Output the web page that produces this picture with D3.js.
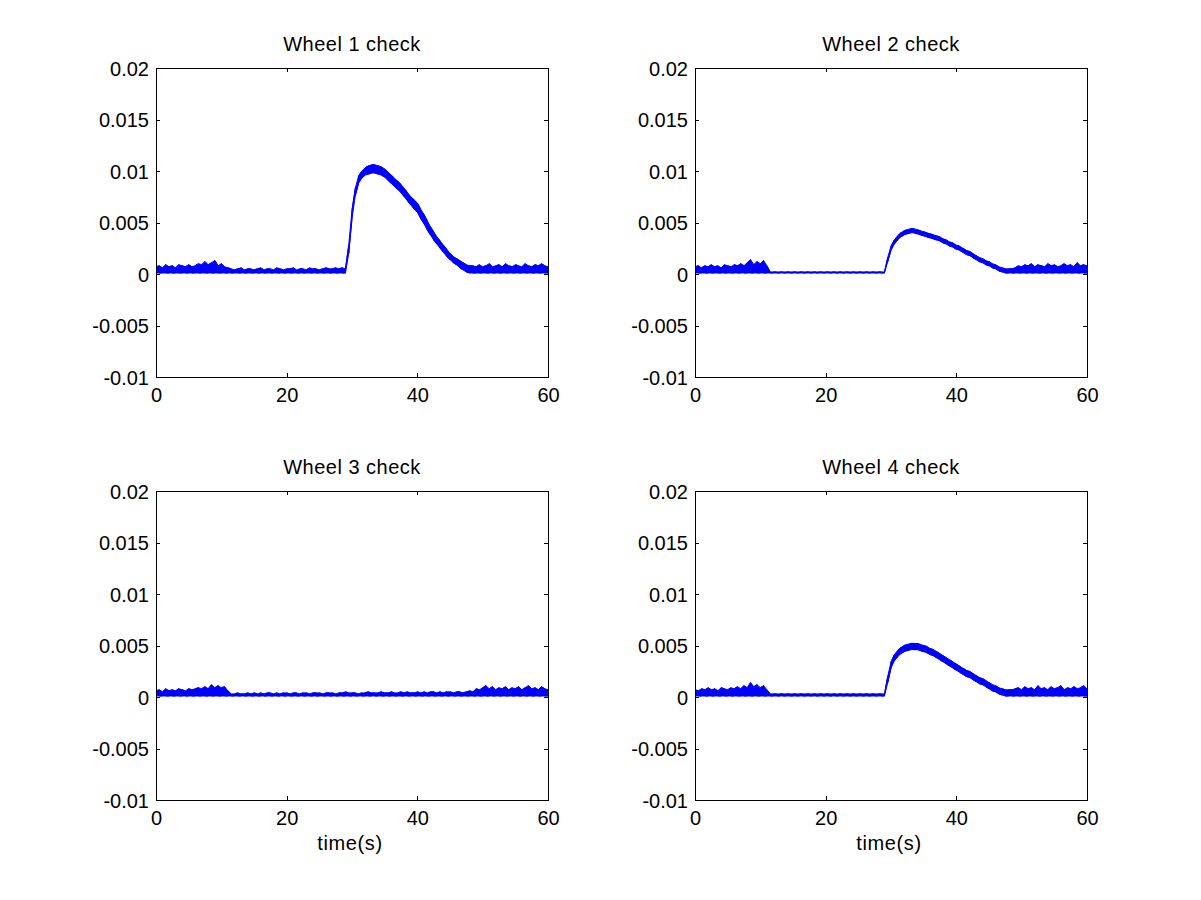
<!DOCTYPE html>
<html>
<head>
<meta charset="utf-8">
<script src="https://cdn.jsdelivr.net/npm/d3@7/dist/d3.min.js"></script>
<style>
  html, body { margin: 0; padding: 0; background: #ffffff; }
  svg { display: block; }
  text { font-family: "Liberation Sans", Arial, Helvetica, sans-serif; fill: #000; }
</style>
</head>
<body>
<svg id="chart" width="1201" height="900"></svg>
<script>
// ---------------- DATA ----------------
const titles = ["Wheel 1 check", "Wheel 2 check", "Wheel 3 check", "Wheel 4 check"];
const xLabel = "time(s)";
const xTicks = [0, 20, 40, 60];
const yTicks = [-0.01, -0.005, 0, 0.005, 0.01, 0.015, 0.02];
const yTickLabels = ["-0.01", "-0.005", "0", "0.005", "0.01", "0.015", "0.02"];
const xDomain = [0, 60];
const yDomain = [-0.01, 0.02];

// sample times (s)
const time = [
  0,0.5,1,1.5,2,2.5,3,3.5,4,4.5,
  5,5.5,6,6.5,7,7.5,8,8.5,9,9.5,
  10,10.5,11,11.5,12,12.5,13,13.5,14,14.5,
  15,15.5,16,16.5,17,17.5,18,18.5,19,19.5,
  20,20.5,21,21.5,22,22.5,23,23.5,24,24.5,
  25,25.5,26,26.5,27,27.5,28,28.5,29,29.5,
  30,30.5,31,31.5,32,32.5,33,33.5,34,34.5,
  35,35.5,36,36.5,37,37.5,38,38.5,39,39.5,
  40,40.5,41,41.5,42,42.5,43,43.5,44,44.5,
  45,45.5,46,46.5,47,47.5,48,48.5,49,49.5,
  50,50.5,51,51.5,52,52.5,53,53.5,54,54.5,
  55,55.5,56,56.5,57,57.5,58,58.5,59,59.5,
  60
];

// Wheel 1: lower / upper envelope of the noisy signal
const wheel1Hi = [
  .0007,.0008,.0006,.0009,.0007,.0008,.0006,.0009,.0008,.0007,
  .0009,.0007,.0008,.0010,.0009,.0012,.0009,.0011,.0013,.0008,
  .0010,.0007,.0006,.0005,.0004,.0005,.0006,.0004,.0005,.0005,
  .0004,.0005,.0006,.0004,.0005,.0005,.0004,.0006,.0005,.0004,
  .0005,.0005,.0006,.0004,.0005,.0005,.0004,.0006,.0005,.0005,
  .0004,.0005,.0006,.0005,.0005,.0006,.0005,.0006,.0005,.0028,
  .0062,.0083,.0095,.0100,.0103,.0105,.0106,.0106,.0105,.0104,
  .0102,.0099,.0096,.0093,.0090,.0087,.0083,.0079,.0075,.0072,
  .0069,.0063,.0058,.0052,.0046,.0041,.0036,.0032,.0028,.0024,
  .0020,.0017,.0015,.0013,.0011,.0009,.0008,.0008,.0007,.0009,
  .0007,.0008,.0010,.0007,.0008,.0009,.0007,.0010,.0008,.0007,
  .0009,.0008,.0007,.0010,.0008,.0007,.0009,.0008,.0010,.0008,
  .0007
];
const wheel1Lo = [
  .0001,.0001,.0001,.0001,.0001,.0001,.0001,.0001,.0001,.0001,
  .0001,.0001,.0001,.0001,.0001,.0001,.0001,.0001,.0001,.0001,
  .0001,.0001,.0001,.0001,.0001,.0001,.0001,.0001,.0001,.0001,
  .0001,.0001,.0001,.0001,.0001,.0001,.0001,.0001,.0001,.0001,
  .0001,.0001,.0001,.0001,.0001,.0001,.0001,.0001,.0001,.0001,
  .0001,.0001,.0001,.0001,.0001,.0001,.0001,.0001,.0001,.0020,
  .0054,.0076,.0088,.0093,.0096,.0097,.0098,.0098,.0097,.0096,
  .0094,.0091,.0088,.0085,.0082,.0079,.0075,.0071,.0067,.0063,
  .0060,.0054,.0049,.0043,.0038,.0033,.0029,.0025,.0021,.0017,
  .0014,.0011,.0009,.0006,.0004,.0002,.0001,.0001,.0001,.0001,
  .0001,.0001,.0001,.0001,.0001,.0001,.0001,.0001,.0001,.0001,
  .0001,.0001,.0001,.0001,.0001,.0001,.0001,.0001,.0001,.0001,
  .0001
];

// Wheel 2
const wheel2Hi = [
  .0007,.0008,.0006,.0008,.0007,.0009,.0007,.0008,.0006,.0009,
  .0008,.0007,.0009,.0008,.0010,.0008,.0011,.0014,.0009,.0012,
  .0010,.0013,.0008,.0002,.0002,.0002,.0002,.0002,.0002,.0002,
  .0002,.0002,.0002,.0002,.0002,.0002,.0002,.0002,.0002,.0002,
  .0002,.0002,.0002,.0002,.0002,.0002,.0002,.0002,.0002,.0002,
  .0002,.0002,.0002,.0002,.0002,.0002,.0002,.0002,.0002,.0016,
  .0027,.0033,.0037,.0040,.0042,.0043,.0044,.0044,.0043,.0042,
  .0041,.0040,.0039,.0038,.0037,.0036,.0034,.0033,.0031,.0030,
  .0028,.0027,.0025,.0023,.0022,.0020,.0018,.0016,.0015,.0013,
  .0012,.0010,.0009,.0007,.0006,.0005,.0005,.0005,.0006,.0008,
  .0007,.0009,.0008,.0010,.0007,.0009,.0008,.0007,.0010,.0008,
  .0009,.0007,.0008,.0010,.0008,.0009,.0007,.0011,.0008,.0009,
  .0008
];
const wheel2Lo = [
  .0001,.0001,.0001,.0001,.0001,.0001,.0001,.0001,.0001,.0001,
  .0001,.0001,.0001,.0001,.0001,.0001,.0001,.0001,.0001,.0001,
  .0001,.0001,.0001,.0001,.0001,.0001,.0001,.0001,.0001,.0001,
  .0001,.0001,.0001,.0001,.0001,.0001,.0001,.0001,.0001,.0001,
  .0001,.0001,.0001,.0001,.0001,.0001,.0001,.0001,.0001,.0001,
  .0001,.0001,.0001,.0001,.0001,.0001,.0001,.0001,.0001,.0012,
  .0023,.0029,.0033,.0036,.0038,.0039,.0040,.0040,.0039,.0038,
  .0037,.0036,.0035,.0034,.0033,.0032,.0030,.0029,.0027,.0026,
  .0024,.0023,.0021,.0019,.0018,.0016,.0014,.0012,.0011,.0009,
  .0008,.0006,.0005,.0003,.0002,.0001,.0001,.0001,.0001,.0001,
  .0001,.0001,.0001,.0001,.0001,.0001,.0001,.0001,.0001,.0001,
  .0001,.0001,.0001,.0001,.0001,.0001,.0001,.0001,.0001,.0001,
  .0001
];

// Wheel 3
const wheel3Hi = [
  .0006,.0007,.0005,.0008,.0006,.0007,.0006,.0008,.0007,.0006,
  .0008,.0007,.0008,.0009,.0008,.0010,.0008,.0012,.0009,.0011,
  .0009,.0010,.0006,.0003,.0003,.0004,.0003,.0003,.0004,.0003,
  .0004,.0003,.0004,.0003,.0004,.0004,.0003,.0004,.0003,.0004,
  .0004,.0003,.0004,.0004,.0003,.0004,.0004,.0003,.0004,.0004,
  .0004,.0003,.0004,.0004,.0004,.0003,.0004,.0004,.0005,.0004,
  .0004,.0004,.0003,.0004,.0004,.0005,.0004,.0004,.0004,.0005,
  .0004,.0004,.0005,.0004,.0004,.0005,.0004,.0005,.0004,.0004,
  .0005,.0004,.0005,.0004,.0005,.0005,.0004,.0005,.0004,.0005,
  .0005,.0004,.0005,.0005,.0004,.0005,.0006,.0005,.0008,.0007,
  .0009,.0011,.0008,.0010,.0007,.0009,.0008,.0010,.0007,.0009,
  .0008,.0010,.0007,.0009,.0011,.0008,.0009,.0007,.0010,.0008,
  .0007
];
const wheel3Lo = [
  .0001,.0001,.0001,.0001,.0001,.0001,.0001,.0001,.0001,.0001,
  .0001,.0001,.0001,.0001,.0001,.0001,.0001,.0001,.0001,.0001,
  .0001,.0001,.0001,.0001,.0001,.0001,.0001,.0001,.0001,.0001,
  .0001,.0001,.0001,.0001,.0001,.0001,.0001,.0001,.0001,.0001,
  .0001,.0001,.0001,.0001,.0001,.0001,.0001,.0001,.0001,.0001,
  .0001,.0001,.0001,.0001,.0001,.0001,.0001,.0001,.0001,.0001,
  .0001,.0001,.0001,.0001,.0001,.0001,.0001,.0001,.0001,.0001,
  .0001,.0001,.0001,.0001,.0001,.0001,.0001,.0001,.0001,.0001,
  .0001,.0001,.0001,.0001,.0001,.0001,.0001,.0001,.0001,.0001,
  .0001,.0001,.0001,.0001,.0001,.0001,.0001,.0001,.0001,.0001,
  .0001,.0001,.0001,.0001,.0001,.0001,.0001,.0001,.0001,.0001,
  .0001,.0001,.0001,.0001,.0001,.0001,.0001,.0001,.0001,.0001,
  .0001
];

// Wheel 4
const wheel4Hi = [
  .0007,.0006,.0008,.0007,.0009,.0007,.0008,.0006,.0009,.0008,
  .0007,.0009,.0008,.0010,.0008,.0011,.0009,.0014,.0010,.0012,
  .0009,.0011,.0007,.0003,.0003,.0003,.0003,.0003,.0003,.0003,
  .0003,.0003,.0003,.0003,.0003,.0003,.0003,.0003,.0003,.0003,
  .0003,.0003,.0003,.0003,.0003,.0003,.0003,.0003,.0003,.0003,
  .0003,.0003,.0003,.0003,.0003,.0003,.0003,.0003,.0003,.0020,
  .0034,.0041,.0045,.0048,.0050,.0051,.0052,.0052,.0052,.0051,
  .0050,.0049,.0047,.0046,.0044,.0042,.0040,.0038,.0036,.0034,
  .0032,.0030,.0028,.0026,.0025,.0023,.0021,.0019,.0018,.0016,
  .0014,.0012,.0011,.0009,.0008,.0007,.0007,.0007,.0008,.0009,
  .0007,.0010,.0008,.0009,.0007,.0011,.0008,.0009,.0007,.0010,
  .0008,.0009,.0011,.0007,.0009,.0008,.0010,.0008,.0009,.0011,
  .0008
];
const wheel4Lo = [
  .0001,.0001,.0001,.0001,.0001,.0001,.0001,.0001,.0001,.0001,
  .0001,.0001,.0001,.0001,.0001,.0001,.0001,.0001,.0001,.0001,
  .0001,.0001,.0001,.0001,.0001,.0001,.0001,.0001,.0001,.0001,
  .0001,.0001,.0001,.0001,.0001,.0001,.0001,.0001,.0001,.0001,
  .0001,.0001,.0001,.0001,.0001,.0001,.0001,.0001,.0001,.0001,
  .0001,.0001,.0001,.0001,.0001,.0001,.0001,.0001,.0001,.0014,
  .0028,.0035,.0039,.0042,.0044,.0045,.0046,.0046,.0046,.0045,
  .0044,.0043,.0041,.0040,.0038,.0036,.0034,.0032,.0030,.0028,
  .0026,.0024,.0022,.0020,.0019,.0017,.0015,.0013,.0012,.0010,
  .0008,.0006,.0005,.0003,.0002,.0001,.0001,.0001,.0001,.0001,
  .0001,.0001,.0001,.0001,.0001,.0001,.0001,.0001,.0001,.0001,
  .0001,.0001,.0001,.0001,.0001,.0001,.0001,.0001,.0001,.0001,
  .0001
];

const wheelsHi = [wheel1Hi, wheel2Hi, wheel3Hi, wheel4Hi];
const wheelsLo = [wheel1Lo, wheel2Lo, wheel3Lo, wheel4Lo];

// ---------------- LAYOUT ----------------
const lineColor = "#0000ff";
const panelW = 392, panelH = 309;
const panelPos = [
  { left: 156, top: 68 },
  { left: 695, top: 68 },
  { left: 156, top: 491 },
  { left: 695, top: 491 }
];
const tickLen = 4;

const svg = d3.select("#chart");
svg.append("rect").attr("width", 1201).attr("height", 900).attr("fill", "#ffffff");

panelPos.forEach((p, k) => {
  const g = svg.append("g").attr("transform", `translate(${p.left},${p.top})`);
  const x = d3.scaleLinear().domain(xDomain).range([0, panelW]);
  const y = d3.scaleLinear().domain(yDomain).range([panelH, 0]);

  const clipId = "clip" + k;
  g.append("clipPath").attr("id", clipId)
    .append("rect").attr("x", 0).attr("y", 0).attr("width", panelW).attr("height", panelH);

  const hi = wheelsHi[k], lo = wheelsLo[k];
  const rows = time.map((t, i) => ({ t, lo: lo[i], hi: hi[i] }));

  const plot = g.append("g").attr("clip-path", `url(#${clipId})`);
  const area = d3.area().x(d => x(d.t)).y0(d => y(d.lo)).y1(d => y(d.hi));
  plot.append("path").datum(rows).attr("d", area)
    .attr("fill", lineColor).attr("stroke", lineColor).attr("stroke-width", 1);
  // jagged noise strokes: vertical segments between the envelope values
  const zig = [];
  rows.forEach((d, i) => {
    if (i % 2 === 0) { zig.push([d.t, d.lo]); zig.push([d.t, d.hi]); }
    else { zig.push([d.t, d.hi]); zig.push([d.t, d.lo]); }
  });
  plot.append("path").datum(zig)
    .attr("d", d3.line().x(d => x(d[0])).y(d => y(d[1])))
    .attr("fill", "none").attr("stroke", lineColor).attr("stroke-width", 1);

  // axes box
  g.append("rect").attr("x", 0.5).attr("y", 0.5).attr("width", panelW).attr("height", panelH)
    .attr("fill", "none").attr("stroke", "#000").attr("stroke-width", 1)
    .attr("shape-rendering", "crispEdges");

  const styleAxis = sel => {
    sel.select(".domain").remove();
    sel.selectAll(".tick line").attr("stroke", "#000").attr("shape-rendering", "crispEdges");
    sel.selectAll(".tick text").attr("font-size", 20).attr("fill", "#000");
  };

  g.append("g")
    .call(d3.axisLeft(y).tickValues(yTicks).tickFormat((d, i) => yTickLabels[i])
      .tickSizeInner(-tickLen).tickSizeOuter(0).tickPadding(7))
    .call(styleAxis)
    .call(a => a.selectAll(".tick text").attr("dy", "0.36em"));
  g.append("g").attr("transform", `translate(${panelW},0)`)
    .call(d3.axisRight(y).tickValues(yTicks).tickFormat("")
      .tickSizeInner(-tickLen).tickSizeOuter(0))
    .call(styleAxis);
  g.append("g").attr("transform", `translate(0,${panelH})`)
    .call(d3.axisBottom(x).tickValues(xTicks).tickFormat(d3.format("d"))
      .tickSizeInner(-tickLen).tickSizeOuter(0).tickPadding(11))
    .call(styleAxis);
  g.append("g")
    .call(d3.axisTop(x).tickValues(xTicks).tickFormat("")
      .tickSizeInner(-tickLen).tickSizeOuter(0))
    .call(styleAxis);

  // title
  g.append("text").attr("x", panelW / 2).attr("y", -17)
    .attr("text-anchor", "middle").attr("font-size", 20)
    .attr("letter-spacing", "0.5px")
    .text(titles[k]);

  // x label on bottom row
  if (k >= 2) {
    g.append("text").attr("x", panelW / 2 - 2).attr("y", panelH + 50)
      .attr("text-anchor", "middle").attr("font-size", 20)
      .attr("letter-spacing", "0.6px")
      .text(xLabel);
  }
});
</script>
</body>
</html>
